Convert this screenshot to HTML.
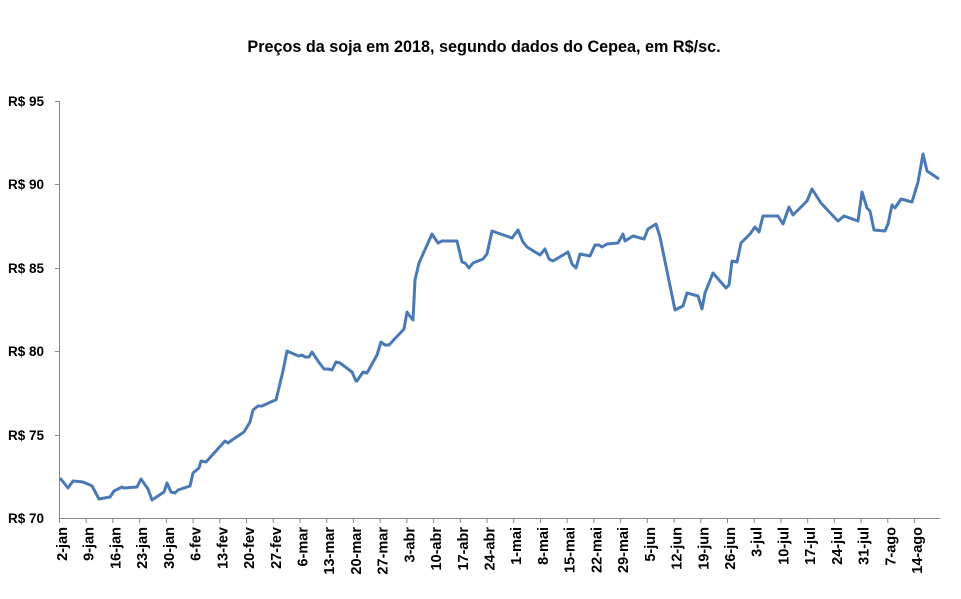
<!DOCTYPE html>
<html><head><meta charset="utf-8"><style>
body{margin:0;background:#fff;}
svg text{font-family:"Liberation Sans",sans-serif;font-weight:bold;fill:#000;}
</style></head><body>
<svg width="961" height="594" viewBox="0 0 961 594" xmlns="http://www.w3.org/2000/svg">
<text x="484" y="52" font-size="16.2" text-anchor="middle">Preços da soja em 2018, segundo dados do Cepea, em  R$/sc.</text>
<g stroke="#888" stroke-width="1">
<line x1="59.5" y1="101" x2="59.5" y2="518"/>
<line x1="59" y1="518.5" x2="940" y2="518.5"/>
<line x1="55" y1="101.5" x2="59.5" y2="101.5"/>
<line x1="55" y1="184.5" x2="59.5" y2="184.5"/>
<line x1="55" y1="268.5" x2="59.5" y2="268.5"/>
<line x1="55" y1="351.5" x2="59.5" y2="351.5"/>
<line x1="55" y1="435.5" x2="59.5" y2="435.5"/>
<line x1="59.5" y1="518" x2="59.5" y2="523"/><line x1="86.2" y1="518" x2="86.2" y2="523"/><line x1="112.9" y1="518" x2="112.9" y2="523"/><line x1="139.7" y1="518" x2="139.7" y2="523"/><line x1="166.4" y1="518" x2="166.4" y2="523"/><line x1="193.1" y1="518" x2="193.1" y2="523"/><line x1="219.8" y1="518" x2="219.8" y2="523"/><line x1="246.5" y1="518" x2="246.5" y2="523"/><line x1="273.3" y1="518" x2="273.3" y2="523"/><line x1="300" y1="518" x2="300" y2="523"/><line x1="326.7" y1="518" x2="326.7" y2="523"/><line x1="353.4" y1="518" x2="353.4" y2="523"/><line x1="380.1" y1="518" x2="380.1" y2="523"/><line x1="406.9" y1="518" x2="406.9" y2="523"/><line x1="433.6" y1="518" x2="433.6" y2="523"/><line x1="460.3" y1="518" x2="460.3" y2="523"/><line x1="487" y1="518" x2="487" y2="523"/><line x1="513.7" y1="518" x2="513.7" y2="523"/><line x1="540.5" y1="518" x2="540.5" y2="523"/><line x1="567.2" y1="518" x2="567.2" y2="523"/><line x1="593.9" y1="518" x2="593.9" y2="523"/><line x1="620.6" y1="518" x2="620.6" y2="523"/><line x1="647.3" y1="518" x2="647.3" y2="523"/><line x1="674.1" y1="518" x2="674.1" y2="523"/><line x1="700.8" y1="518" x2="700.8" y2="523"/><line x1="727.5" y1="518" x2="727.5" y2="523"/><line x1="754.2" y1="518" x2="754.2" y2="523"/><line x1="780.9" y1="518" x2="780.9" y2="523"/><line x1="807.7" y1="518" x2="807.7" y2="523"/><line x1="834.4" y1="518" x2="834.4" y2="523"/><line x1="861.1" y1="518" x2="861.1" y2="523"/><line x1="887.8" y1="518" x2="887.8" y2="523"/><line x1="914.5" y1="518" x2="914.5" y2="523"/>
</g>
<g font-size="13.5" text-anchor="end">
<text x="44" y="106">R$ 95</text>
<text x="44" y="189">R$ 90</text>
<text x="44" y="273">R$ 85</text>
<text x="44" y="356">R$ 80</text>
<text x="44" y="440">R$ 75</text>
<text x="44" y="523">R$ 70</text>
</g>
<g font-size="14.5" text-anchor="end">
<text transform="translate(67,527) rotate(-90)">2-jan</text>
<text transform="translate(93.7,527) rotate(-90)">9-jan</text>
<text transform="translate(120.4,527) rotate(-90)">16-jan</text>
<text transform="translate(147.2,527) rotate(-90)">23-jan</text>
<text transform="translate(173.9,527) rotate(-90)">30-jan</text>
<text transform="translate(200.6,527) rotate(-90)">6-fev</text>
<text transform="translate(227.3,527) rotate(-90)">13-fev</text>
<text transform="translate(254,527) rotate(-90)">20-fev</text>
<text transform="translate(280.8,527) rotate(-90)">27-fev</text>
<text transform="translate(307.5,527) rotate(-90)">6-mar</text>
<text transform="translate(334.2,527) rotate(-90)">13-mar</text>
<text transform="translate(360.9,527) rotate(-90)">20-mar</text>
<text transform="translate(387.6,527) rotate(-90)">27-mar</text>
<text transform="translate(414.4,527) rotate(-90)">3-abr</text>
<text transform="translate(441.1,527) rotate(-90)">10-abr</text>
<text transform="translate(467.8,527) rotate(-90)">17-abr</text>
<text transform="translate(494.5,527) rotate(-90)">24-abr</text>
<text transform="translate(521.2,527) rotate(-90)">1-mai</text>
<text transform="translate(548,527) rotate(-90)">8-mai</text>
<text transform="translate(574.7,527) rotate(-90)">15-mai</text>
<text transform="translate(601.4,527) rotate(-90)">22-mai</text>
<text transform="translate(628.1,527) rotate(-90)">29-mai</text>
<text transform="translate(654.8,527) rotate(-90)">5-jun</text>
<text transform="translate(681.6,527) rotate(-90)">12-jun</text>
<text transform="translate(708.3,527) rotate(-90)">19-jun</text>
<text transform="translate(735,527) rotate(-90)">26-jun</text>
<text transform="translate(761.7,527) rotate(-90)">3-jul</text>
<text transform="translate(788.4,527) rotate(-90)">10-jul</text>
<text transform="translate(815.2,527) rotate(-90)">17-jul</text>
<text transform="translate(841.9,527) rotate(-90)">24-jul</text>
<text transform="translate(868.6,527) rotate(-90)">31-jul</text>
<text transform="translate(895.3,527) rotate(-90)">7-ago</text>
<text transform="translate(922,527) rotate(-90)">14-ago</text>
</g>
<polyline fill="none" stroke="#4a7ab5" stroke-width="3" stroke-linejoin="round" points="60,478 68,488 73,481 83,482 90,485 92,486 99,499 110,497 114,491 122,487 124,488 137,487 141,479 148,489 152,500 164,492 167,483 171,492 175,493 178,490 190,486 193,473 199,468 201,461 206,462 225,441 228,443 232,440 244,432 250,422 253,410 258,406 262,406 273,401 276,400 283,371 287,351 296,355 299,356 302,355 305,357 309,357 312,352 318,361 324,369 328,369 332,370 336,362 340,363 352,372 356,381 357,381 363,372 367,373 377,355 381,342 385,345 389,345 404,329 407,312 409,315 413,320 415,280 419,263 432,234 438,243 442,241 457,241 462,262 465,263 469,268 473,263 483,259 487,254 492,231 512,238 518,230 523,242 527,247 540,255 545,249 549,259 553,261 568,252 572,264 576,268 580,254 590,256 595,245 599,245 602,247 607,244 618,243 623,234 625,241 633,236 644,239 648,229 656,224 660,237 675,310 683,306 687,293 698,296 702,309 705,293 713,273 726,288 729,285 732,261 737,262 741,243 750,234 755,227 759,232 763,216 778,216 783,224 789,207 793,215 807,201 812,189 821,203 835,218 838,221 844,216 858,221 862,192 867,208 870,211 874,230 885,231 888,224 892,205 895,208 901,199 912,202 918,182 923,154 927,171 939,179"/>
</svg>
</body></html>
